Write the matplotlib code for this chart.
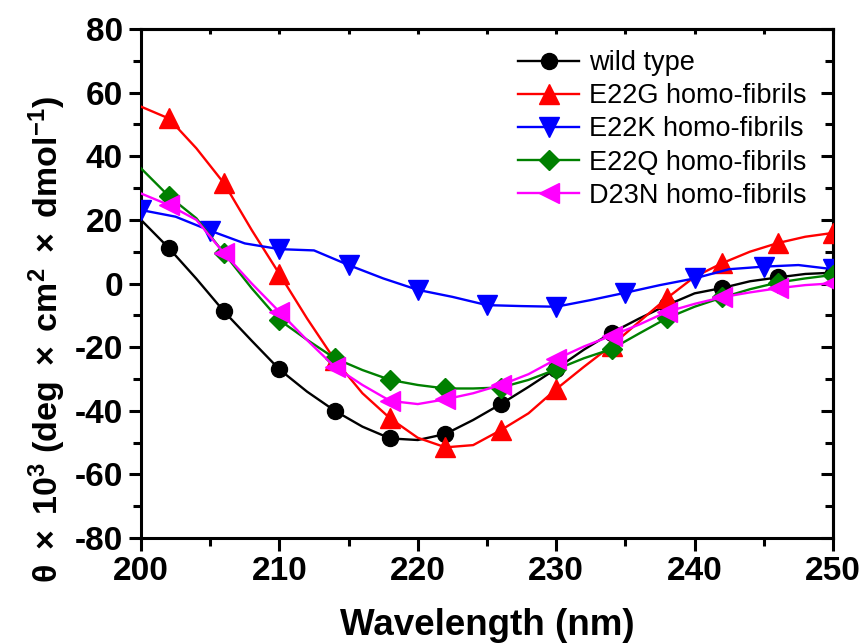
import matplotlib
matplotlib.use("Agg")
import matplotlib.pyplot as plt
import numpy as np

plt.rcParams["font.family"] = ["Liberation Sans", "DejaVu Sans"]
plt.rcParams["mathtext.fontset"] = "custom"
plt.rcParams["mathtext.rm"] = "Liberation Sans"
plt.rcParams["mathtext.bf"] = "Liberation Sans:bold"
plt.rcParams["mathtext.it"] = "Liberation Sans:italic"
plt.rcParams["axes.unicode_minus"] = False

# wavelength grid (nm) for the 2-nm sampled spectra
wl = [200, 202, 204, 206, 208, 210, 212, 214, 216, 218, 220, 222, 224,
      226, 228, 230, 232, 234, 236, 238, 240, 242, 244, 246, 248, 250]

wild_type = [20.0, 11.2, 1.5, -8.8, -18.0, -27.0, -34.0, -40.0, -45.0, -48.7,
             -49.2, -47.3, -42.9, -37.9, -32.5, -26.8, -20.8, -15.5, -11.0,
             -6.8, -3.1, -1.4, 0.7, 1.9, 3.0, 3.4]

e22g = [55.6, 51.9, 42.5, 31.5, 16.8, 3.0, -11.0, -24.0, -34.5, -42.4,
        -48.5, -51.5, -50.8, -46.1, -40.8, -33.2, -26.2, -19.5, -12.0,
        -4.6, 2.1, 6.4, 10.0, 12.7, 14.7, 15.9]

e22q = [36.2, 27.5, 20.5, 9.5, -1.5, -11.5, -17.7, -23.5, -27.2, -30.3,
        -31.9, -33.0, -33.0, -32.7, -30.3, -27.0, -23.5, -20.6, -15.7,
        -10.9, -7.3, -4.4, -1.8, 0.3, 1.6, 2.7]

d23n = [28.3, 24.7, 20.0, 9.5, 0.0, -8.9, -17.8, -26.2, -31.9, -36.9,
        -37.9, -36.4, -34.5, -31.9, -28.5, -23.8, -19.8, -16.4, -12.9,
        -8.9, -6.4, -4.3, -2.8, -1.5, -0.5, 0.05]

# E22K spectrum sampled every 2.5 nm
wl_k = [200, 202.5, 205, 207.5, 210, 212.5, 215, 217.5, 220, 222.5, 225,
        227.5, 230, 232.5, 235, 237.5, 240, 242.5, 245, 247.5, 250]
e22k = [23.1, 21.0, 16.6, 12.6, 10.8, 10.4, 5.8, 1.6, -2.0, -4.2, -6.8,
        -7.1, -7.3, -5.2, -2.9, -0.5, 1.6, 4.5, 5.3, 5.8, 4.5]

labels = ["wild type", "E22G homo-fibrils", "E22K homo-fibrils",
          "E22Q homo-fibrils", "D23N homo-fibrils"]

x_ticks = [200, 210, 220, 230, 240, 250]
y_ticks = [-80, -60, -40, -20, 0, 20, 40, 60, 80]

fig = plt.figure(figsize=(8.62, 6.44), dpi=100)
ax = fig.add_axes([141 / 862, 1 - 538 / 644, (833 - 141) / 862, (538 - 29) / 644])

lw = 1.7
every2 = slice(1, None, 2)
ax.plot(wl, wild_type, color="black", lw=lw, marker="o", ms=11.5,
        markevery=every2, label=labels[0], zorder=3)
ax.plot(wl, e22g, color="red", lw=lw, marker="^", ms=14.5,
        markevery=every2, label=labels[1], zorder=3)
ax.plot(wl_k, e22k, color="blue", lw=lw, marker="v", ms=14.5,
        markevery=slice(0, None, 2), label=labels[2], zorder=3)
ax.plot(wl, e22q, color="#008000", lw=lw, marker="D", ms=10,
        markevery=every2, label=labels[3], zorder=3)
ax.plot(wl, d23n, color="#FF00FF", lw=lw, marker="<", ms=14.5,
        markevery=every2, label=labels[4], zorder=4)

ax.set_xlim(200, 250)
ax.set_ylim(-80, 80)
ax.set_xticks(x_ticks)
ax.set_yticks(y_ticks)
ax.set_xticks(np.arange(205, 250, 10), minor=True)
ax.set_yticks(np.arange(-70, 80, 20), minor=True)

for sp in ax.spines.values():
    sp.set_linewidth(2.2)

ax.tick_params(axis="both", which="major", direction="out", length=9,
               width=2.2, labelsize=24, top=False, right=False, pad=4)
ax.tick_params(axis="both", which="minor", direction="out", length=5.5,
               width=2.2, top=False, right=False)
for lab in ax.get_xticklabels() + ax.get_yticklabels():
    lab.set_fontweight("bold")

# mirrored inward ticks on the top and right sides
top = ax.secondary_xaxis("top")
top.set_xticks(np.arange(200, 251, 5))
top.set_xticklabels([])
top.tick_params(direction="in", length=3.5, width=2.2)
top.spines["top"].set_linewidth(2.2)
right = ax.secondary_yaxis("right")
right.set_yticks(y_ticks)
right.set_yticklabels([])
right.set_yticks(np.arange(-70, 80, 20), minor=True)
right.tick_params(which="major", direction="in", length=9, width=2.2)
right.tick_params(which="minor", direction="in", length=5.5, width=2.2)
right.spines["right"].set_linewidth(2.2)

ax.set_xlabel("Wavelength (nm)", fontsize=26.5, fontweight="bold")
ax.xaxis.set_label_coords(0.5, -0.138)
ax.set_ylabel(r"$\mathbf{\theta\ \times\ 10^3\ (deg\ \times\ cm^2\ \times\ dmol^{-1})}$",
              fontsize=24.5)
ax.yaxis.set_label_coords(-0.105, 0.39)

ax.legend(loc="upper left", bbox_to_anchor=(0.545, 0.958), frameon=False,
          fontsize=19.5, handlelength=2.25, handletextpad=0.35,
          labelspacing=0.26, borderpad=0, borderaxespad=0)

fig.savefig("out.png", dpi=100)
